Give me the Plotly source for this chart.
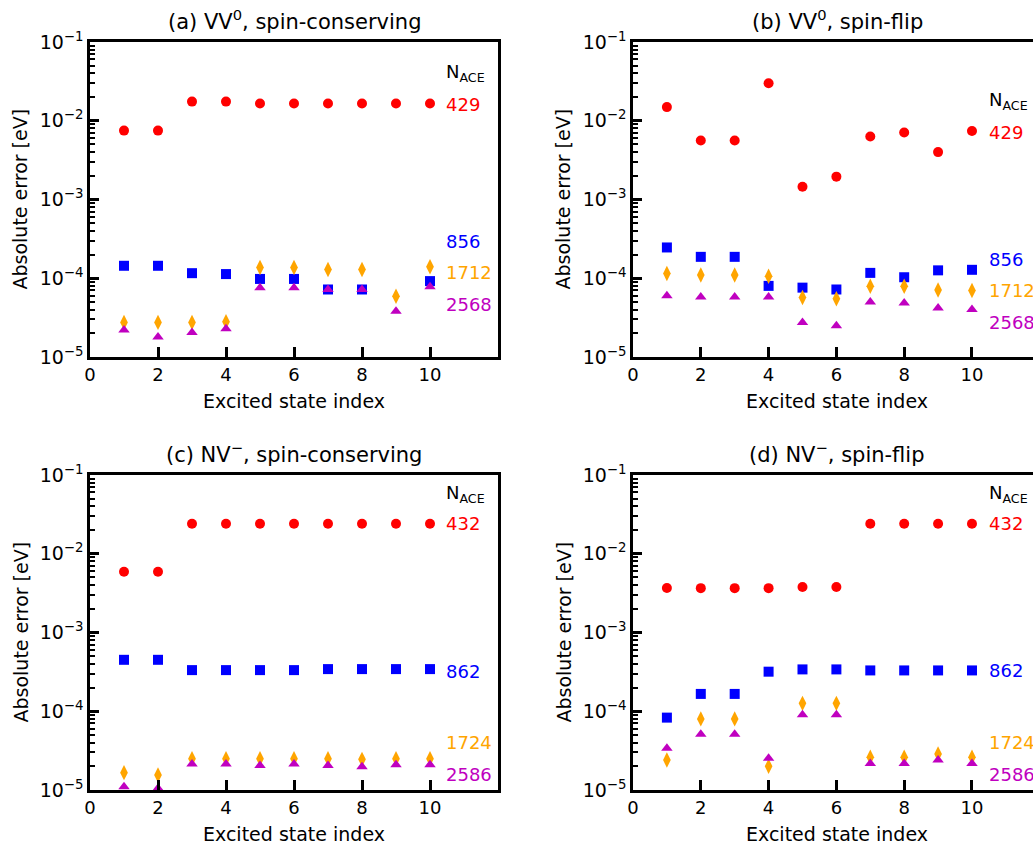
import plotly.graph_objects as go

# Excited state indices shared by all panels
idx = list(range(1, 11))

# (a) VV0, spin-conserving: absolute error [eV] for each N_ACE
a_429 = [7.5e-3, 7.5e-3, 1.75e-2, 1.75e-2, 1.66e-2, 1.66e-2, 1.66e-2, 1.66e-2, 1.66e-2, 1.66e-2]
a_856 = [1.44e-4, 1.44e-4, 1.16e-4, 1.13e-4, 9.8e-5, 9.8e-5, 7.2e-5, 7.2e-5, None, 9.2e-5]
a_1712 = [2.75e-5, 2.75e-5, 2.75e-5, 2.8e-5, 1.37e-4, 1.37e-4, 1.29e-4, 1.29e-4, 5.9e-5, 1.4e-4]
a_2568 = [2.2e-5, 1.8e-5, 2.05e-5, 2.28e-5, 7.6e-5, 7.6e-5, 7.2e-5, 7.2e-5, 3.8e-5, 7.8e-5]

# (b) VV0, spin-flip
b_429 = [1.49e-2, 5.6e-3, 5.6e-3, 3.0e-2, 1.45e-3, 1.95e-3, 6.3e-3, 7.1e-3, 4.0e-3, 7.4e-3]
b_856 = [2.46e-4, 1.87e-4, 1.87e-4, 8.0e-5, 7.6e-5, 7.2e-5, 1.17e-4, 1.03e-4, 1.26e-4, 1.28e-4]
b_1712 = [1.15e-4, 1.1e-4, 1.1e-4, 1.06e-4, 5.7e-5, 5.5e-5, 7.9e-5, 7.9e-5, 7.1e-5, 7.0e-5]
b_2568 = [6.0e-5, 5.8e-5, 5.8e-5, 5.8e-5, 2.75e-5, 2.5e-5, 5.0e-5, 4.85e-5, 4.2e-5, 4.0e-5]

# (c) NV-, spin-conserving
c_432 = [5.9e-3, 5.9e-3, 2.4e-2, 2.4e-2, 2.4e-2, 2.4e-2, 2.4e-2, 2.4e-2, 2.4e-2, 2.4e-2]
c_862 = [4.5e-4, 4.5e-4, 3.33e-4, 3.33e-4, 3.33e-4, 3.33e-4, 3.43e-4, 3.43e-4, 3.43e-4, 3.43e-4]
c_1724 = [1.66e-5, 1.55e-5, 2.5e-5, 2.5e-5, 2.5e-5, 2.5e-5, 2.5e-5, 2.45e-5, 2.5e-5, 2.5e-5]
c_2586 = [1.1e-5, 1.05e-5, 2.14e-5, 2.14e-5, 2.05e-5, 2.14e-5, 2.05e-5, 1.98e-5, 2.1e-5, 2.1e-5]

# (d) NV-, spin-flip
d_432 = [3.68e-3, 3.66e-3, 3.66e-3, 3.66e-3, 3.79e-3, 3.79e-3, 2.4e-2, 2.4e-2, 2.4e-2, 2.4e-2]
d_862 = [8.3e-5, 1.66e-4, 1.66e-4, 3.18e-4, 3.4e-4, 3.4e-4, 3.3e-4, 3.3e-4, 3.3e-4, 3.3e-4]
d_1724 = [2.4e-5, 8.0e-5, 8.0e-5, 2.0e-5, 1.26e-4, 1.26e-4, 2.6e-5, 2.6e-5, 2.86e-5, 2.6e-5]
d_2586 = [3.4e-5, 5.1e-5, 5.1e-5, 2.53e-5, 9.0e-5, 9.0e-5, 2.17e-5, 2.17e-5, 2.4e-5, 2.17e-5]

titles = ["(a) VV<sup>0</sup>, spin-conserving", "(b) VV<sup>0</sup>, spin-flip",
          "(c) NV<sup>−</sup>, spin-conserving", "(d) NV<sup>−</sup>, spin-flip"]
nace_vv = ["429", "856", "1712", "2568"]
nace_nv = ["432", "862", "1724", "2586"]

ytick_vals = [1e-5, 1e-4, 1e-3, 1e-2, 1e-1]
ytick_text = ["10<sup>−5</sup>", "10<sup>−4</sup>", "10<sup>−3</sup>", "10<sup>−2</sup>", "10<sup>−1</sup>"]
xtick_vals = [0, 2, 4, 6, 8, 10]
# minor log ticks: 2..9 within each decade
yminor_vals = [m * 10.0 ** e for e in range(-5, -1) for m in range(2, 10)]

COLORS = ["#ff0000", "#0000ff", "#ffa500", "#c000c0"]
SYMBOLS = ["circle", "square", "diamond-tall", "triangle-up"]
SIZES = [10, 10, 11, 10]

FONT = "DejaVu Sans"
W, H = 1033, 846

# pixel geometry of each panel: (left, right, top, bottom, x-range max)
panels = [
    (90, 498, 42, 357, 12.0),
    (633, 1033, 42, 357, 11.8),
    (90, 498, 475, 790, 12.0),
    (633, 1033, 475, 790, 11.8),
]
series = [
    [a_429, a_856, a_1712, a_2568],
    [b_429, b_856, b_1712, b_2568],
    [c_432, c_862, c_1724, c_2586],
    [d_432, d_862, d_1724, d_2586],
]
names = [nace_vv, nace_vv, nace_nv, nace_nv]
# label heights (log10 of eV) for "N_ACE" header and the four series labels
label_logs = [
    [-1.394, -1.788, -3.529, -3.922, -4.329],
    [-1.750, -2.144, -3.757, -4.151, -4.558],
    [-1.241, -1.622, -3.489, -4.403, -4.797],
    [-1.237, -1.622, -3.485, -4.403, -4.797],
]
label_x = [10.4, 10.44, 10.4, 10.44]

fig = go.Figure()
annotations = []
layout = {}

for p, (left, right, top, bottom, xmax) in enumerate(panels):
    n = "" if p == 0 else str(p + 1)
    xa, ya = "x" + n, "y" + n
    for s, vals in enumerate(series[p]):
        fig.add_trace(go.Scatter(
            x=idx, y=vals, mode="markers", xaxis=xa, yaxis=ya,
            marker=dict(color=COLORS[s], symbol=SYMBOLS[s], size=SIZES[s], line=dict(width=0)),
            showlegend=False, cliponaxis=False,
        ))
    right_visible = right < W
    cx = (2 * left + 408) / 2 / W
    xdom = [left / W, right / W]
    ydom = [1 - bottom / H, 1 - top / H]
    layout["xaxis" + n] = dict(
        domain=xdom, anchor=ya, range=[0, xmax], automargin=False, layer="above traces",
        tickmode="array", tickvals=xtick_vals, ticks="inside", ticklen=10, tickwidth=2.5,
        tickcolor="black", showline=True, linecolor="black", linewidth=2.5, mirror=True,
        showgrid=False, zeroline=False, tickfont=dict(family=FONT, size=18, color="black"),
    )
    layout["yaxis" + n] = dict(
        domain=ydom, anchor=xa, type="log", range=[-5, -1], automargin=False,
        layer="above traces",
        tickmode="array", tickvals=ytick_vals, ticktext=ytick_text, ticks="inside",
        ticklen=9, tickwidth=2.5, tickcolor="black",
        minor=dict(tickmode="array", tickvals=yminor_vals, ticks="inside", ticklen=5,
                   tickwidth=2, tickcolor="black", showgrid=False),
        showline=True, linecolor="black", linewidth=2.5, mirror=right_visible,
        showgrid=False, zeroline=False, tickfont=dict(family=FONT, size=19, color="black"),
    )

    # panel title
    annotations.append(dict(
        text=titles[p], xref="paper", yref="paper", x=cx,
        y=1 - (top - 22) / H, xanchor="center", yanchor="middle", showarrow=False,
        font=dict(family=FONT, size=21, color="black"),
    ))
    # x-axis title
    annotations.append(dict(
        text="Excited state index", xref="paper", yref="paper", x=cx,
        y=1 - (bottom + 44) / H, xanchor="center", yanchor="middle", showarrow=False,
        font=dict(family=FONT, size=19, color="black"),
    ))
    # y-axis title
    annotations.append(dict(
        text="Absolute error [eV]", xref="paper", yref="paper", x=(left - 70) / W,
        y=1 - (top + bottom) / 2 / H, xanchor="center", yanchor="middle", showarrow=False,
        textangle=-90, font=dict(family=FONT, size=19, color="black"),
    ))
    # N_ACE header and series labels
    ys = label_logs[p]
    annotations.append(dict(
        text="N<sub>ACE</sub>", xref=xa, yref=ya, x=label_x[p], y=ys[0],
        xanchor="left", yanchor="middle", showarrow=False,
        font=dict(family=FONT, size=18, color="black"),
    ))
    for s in range(4):
        annotations.append(dict(
            text=names[p][s], xref=xa, yref=ya, x=label_x[p], y=ys[s + 1],
            xanchor="left", yanchor="middle", showarrow=False,
            font=dict(family=FONT, size=18, color=COLORS[s]),
        ))

fig.update_layout(
    template="none",
    width=W, height=H, margin=dict(l=0, r=0, t=0, b=0, pad=0, autoexpand=False),
    paper_bgcolor="white", plot_bgcolor="rgba(0,0,0,0)",
    annotations=annotations, **layout,
)

fig.write_html("out.html")
